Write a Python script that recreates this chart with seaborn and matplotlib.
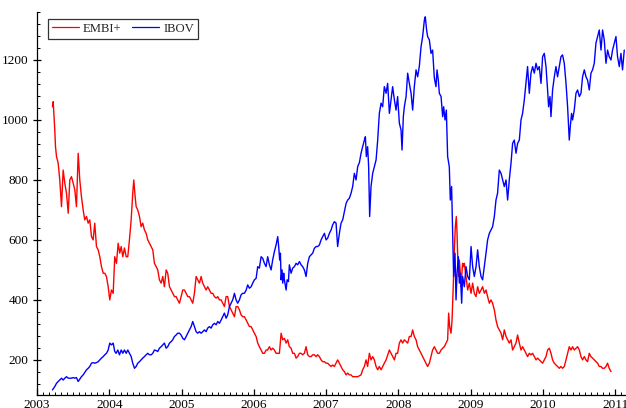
import matplotlib
matplotlib.use("Agg")
import matplotlib.pyplot as plt
from matplotlib.ticker import MultipleLocator, FormatStrFormatter
import pandas as pd
import seaborn as sns

# EMBI+ spread (basis points) sampled through time, in decimal years
embi_year = [
    2003.214, 2003.224, 2003.246, 2003.256, 2003.270, 2003.293, 2003.315, 2003.339, 2003.362, 2003.385,
    2003.408, 2003.432, 2003.454, 2003.477, 2003.501, 2003.523, 2003.546, 2003.570, 2003.592, 2003.615,
    2003.639, 2003.661, 2003.685, 2003.708, 2003.730, 2003.754, 2003.777, 2003.799, 2003.823, 2003.846,
    2003.869, 2003.892, 2003.916, 2003.938, 2003.961, 2003.985, 2004.007, 2004.030, 2004.054, 2004.076,
    2004.100, 2004.123, 2004.145, 2004.165, 2004.187, 2004.210, 2004.234, 2004.256, 2004.279, 2004.303,
    2004.325, 2004.339, 2004.358, 2004.372, 2004.394, 2004.418, 2004.441, 2004.463, 2004.487, 2004.510,
    2004.533, 2004.556, 2004.580, 2004.602, 2004.625, 2004.649, 2004.671, 2004.694, 2004.718, 2004.740,
    2004.763, 2004.787, 2004.809, 2004.833, 2004.856, 2004.878, 2004.902, 2004.925, 2004.947, 2004.971,
    2004.994, 2005.017, 2005.040, 2005.064, 2005.086, 2005.109, 2005.133, 2005.155, 2005.178, 2005.202,
    2005.224, 2005.248, 2005.271, 2005.293, 2005.317, 2005.340, 2005.362, 2005.386, 2005.409, 2005.432,
    2005.455, 2005.479, 2005.501, 2005.524, 2005.548, 2005.570, 2005.593, 2005.617, 2005.639, 2005.663,
    2005.686, 2005.708, 2005.732, 2005.755, 2005.777, 2005.801, 2005.824, 2005.846, 2005.870, 2005.894,
    2005.916, 2005.939, 2005.963, 2005.985, 2006.008, 2006.032, 2006.054, 2006.077, 2006.101, 2006.123,
    2006.147, 2006.170, 2006.192, 2006.216, 2006.239, 2006.261, 2006.285, 2006.308, 2006.331, 2006.354,
    2006.378, 2006.400, 2006.423, 2006.447, 2006.469, 2006.492, 2006.516, 2006.538, 2006.562, 2006.585,
    2006.607, 2006.631, 2006.654, 2006.676, 2006.700, 2006.723, 2006.746, 2006.769, 2006.793, 2006.815,
    2006.838, 2006.862, 2006.884, 2006.907, 2006.931, 2006.953, 2006.977, 2007.000, 2007.022, 2007.046,
    2007.069, 2007.091, 2007.115, 2007.138, 2007.160, 2007.184, 2007.207, 2007.230, 2007.253, 2007.277,
    2007.299, 2007.322, 2007.346, 2007.368, 2007.391, 2007.437, 2007.484, 2007.506, 2007.530, 2007.553,
    2007.575, 2007.599, 2007.622, 2007.645, 2007.668, 2007.692, 2007.714, 2007.737, 2007.761, 2007.783,
    2007.806, 2007.830, 2007.876, 2007.899, 2007.921, 2007.945, 2007.968, 2007.990, 2008.014, 2008.037,
    2008.059, 2008.083, 2008.107, 2008.129, 2008.152, 2008.176, 2008.198, 2008.221, 2008.245, 2008.267,
    2008.290, 2008.314, 2008.336, 2008.360, 2008.383, 2008.405, 2008.429, 2008.452, 2008.474, 2008.498,
    2008.521, 2008.544, 2008.567, 2008.591, 2008.613, 2008.636, 2008.660, 2008.682, 2008.696, 2008.710,
    2008.729, 2008.743, 2008.761, 2008.775, 2008.788, 2008.802, 2008.812, 2008.820, 2008.834, 2008.844,
    2008.858, 2008.867, 2008.889, 2008.903, 2008.913, 2008.936, 2008.959, 2008.982, 2009.006, 2009.028,
    2009.051, 2009.075, 2009.097, 2009.120, 2009.144, 2009.166, 2009.190, 2009.213, 2009.235, 2009.259,
    2009.282, 2009.304, 2009.328, 2009.351, 2009.373, 2009.397, 2009.421, 2009.443, 2009.466, 2009.490,
    2009.512, 2009.535, 2009.559, 2009.581, 2009.604, 2009.628, 2009.650, 2009.674, 2009.697, 2009.719,
    2009.743, 2009.766, 2009.788, 2009.812, 2009.835, 2009.858, 2009.881, 2009.905, 2009.927, 2009.950,
    2009.974, 2009.996, 2010.019, 2010.043, 2010.065, 2010.089, 2010.112, 2010.134, 2010.158, 2010.181,
    2010.203, 2010.227, 2010.250, 2010.272, 2010.296, 2010.320, 2010.342, 2010.365, 2010.389, 2010.411,
    2010.434, 2010.458, 2010.480, 2010.504, 2010.527, 2010.549, 2010.573, 2010.596, 2010.618, 2010.642,
    2010.665, 2010.687, 2010.711, 2010.734, 2010.757, 2010.780, 2010.804, 2010.826, 2010.849, 2010.873,
    2010.895, 2010.918, 2010.942,
]
embi_value = [
    1044, 1061, 967, 911, 878, 856, 800, 711, 833, 789,
    756, 689, 800, 811, 789, 767, 711, 889, 800, 744,
    700, 667, 678, 656, 667, 611, 600, 656, 578, 567,
    544, 511, 489, 489, 478, 444, 400, 433, 422, 544,
    522, 589, 556, 578, 544, 573, 544, 544, 600, 667,
    756, 800, 744, 711, 700, 678, 644, 656, 633, 622,
    600, 589, 578, 567, 522, 511, 500, 467, 456, 478,
    444, 500, 489, 444, 433, 422, 411, 411, 400, 389,
    411, 433, 433, 422, 411, 411, 400, 389, 422, 478,
    467, 456, 478, 456, 444, 433, 444, 433, 422, 422,
    411, 406, 411, 400, 400, 389, 378, 411, 411, 378,
    367, 356, 344, 378, 378, 367, 350, 344, 344, 333,
    322, 311, 311, 300, 289, 278, 256, 244, 233, 222,
    222, 233, 233, 244, 233, 239, 233, 222, 222, 222,
    289, 267, 272, 256, 267, 244, 239, 222, 222, 206,
    211, 222, 222, 217, 222, 244, 217, 211, 211, 217,
    217, 211, 217, 211, 200, 194, 194, 189, 189, 183,
    178, 183, 178, 189, 200, 189, 178, 167, 161, 150,
    156, 150, 150, 144, 144, 144, 150, 167, 178, 200,
    178, 222, 200, 211, 200, 178, 167, 178, 167, 178,
    189, 200, 233, 222, 211, 200, 222, 222, 256, 267,
    256, 267, 261, 256, 278, 278, 300, 278, 267, 244,
    233, 222, 211, 200, 189, 178, 189, 211, 233, 244,
    233, 222, 222, 233, 239, 244, 256, 267, 356, 311,
    289, 333, 456, 567, 644, 678, 622, 556, 478, 533,
    489, 444, 522, 511, 522, 478, 433, 456, 422, 456,
    422, 411, 444, 422, 433, 444, 422, 433, 411, 389,
    400, 389, 367, 333, 311, 300, 289, 267, 300, 278,
    267, 256, 267, 233, 244, 256, 283, 256, 233, 244,
    233, 222, 211, 222, 217, 222, 211, 200, 206, 200,
    194, 189, 200, 211, 233, 239, 222, 200, 189, 183,
    178, 172, 178, 172, 178, 200, 222, 244, 233, 244,
    233, 239, 244, 233, 211, 200, 211, 200, 194, 222,
    211, 206, 200, 194, 189, 178, 178, 172, 172, 178,
    189, 172, 161,
]

# IBOV index level sampled through time, in decimal years
ibov_year = [
    2003.214, 2003.246, 2003.270, 2003.293, 2003.315, 2003.339, 2003.362, 2003.385, 2003.408, 2003.432,
    2003.454, 2003.477, 2003.501, 2003.523, 2003.546, 2003.570, 2003.592, 2003.615, 2003.639, 2003.661,
    2003.685, 2003.708, 2003.730, 2003.754, 2003.777, 2003.799, 2003.823, 2003.846, 2003.869, 2003.892,
    2003.916, 2003.938, 2003.961, 2003.985, 2004.007, 2004.030, 2004.054, 2004.076, 2004.095, 2004.118,
    2004.141, 2004.165, 2004.187, 2004.210, 2004.234, 2004.256, 2004.279, 2004.303, 2004.325, 2004.349,
    2004.372, 2004.394, 2004.418, 2004.441, 2004.463, 2004.487, 2004.510, 2004.533, 2004.556, 2004.580,
    2004.602, 2004.625, 2004.649, 2004.671, 2004.694, 2004.718, 2004.740, 2004.763, 2004.787, 2004.809,
    2004.833, 2004.856, 2004.878, 2004.902, 2004.925, 2004.947, 2004.971, 2004.994, 2005.017, 2005.040,
    2005.064, 2005.086, 2005.109, 2005.133, 2005.155, 2005.178, 2005.202, 2005.224, 2005.248, 2005.271,
    2005.293, 2005.317, 2005.340, 2005.362, 2005.386, 2005.409, 2005.432, 2005.455, 2005.479, 2005.501,
    2005.524, 2005.548, 2005.570, 2005.593, 2005.617, 2005.639, 2005.663, 2005.686, 2005.708, 2005.732,
    2005.755, 2005.777, 2005.801, 2005.824, 2005.846, 2005.870, 2005.894, 2005.916, 2005.939, 2005.963,
    2005.985, 2006.008, 2006.032, 2006.054, 2006.077, 2006.101, 2006.123, 2006.147, 2006.170, 2006.192,
    2006.216, 2006.239, 2006.261, 2006.285, 2006.308, 2006.331, 2006.344, 2006.358, 2006.368, 2006.378,
    2006.391, 2006.400, 2006.414, 2006.423, 2006.447, 2006.461, 2006.479, 2006.492, 2006.516, 2006.538,
    2006.562, 2006.585, 2006.607, 2006.631, 2006.654, 2006.676, 2006.700, 2006.723, 2006.746, 2006.769,
    2006.793, 2006.815, 2006.838, 2006.862, 2006.884, 2006.907, 2006.931, 2006.953, 2006.977, 2007.000,
    2007.022, 2007.046, 2007.069, 2007.091, 2007.115, 2007.138, 2007.160, 2007.184, 2007.207, 2007.230,
    2007.253, 2007.277, 2007.299, 2007.322, 2007.346, 2007.368, 2007.391, 2007.415, 2007.437, 2007.461,
    2007.484, 2007.506, 2007.530, 2007.544, 2007.557, 2007.575, 2007.589, 2007.603, 2007.622, 2007.645,
    2007.668, 2007.692, 2007.714, 2007.737, 2007.761, 2007.783, 2007.806, 2007.830, 2007.852, 2007.876,
    2007.899, 2007.921, 2007.945, 2007.968, 2007.990, 2008.014, 2008.037, 2008.051, 2008.069, 2008.083,
    2008.107, 2008.129, 2008.152, 2008.176, 2008.198, 2008.221, 2008.245, 2008.267, 2008.290, 2008.314,
    2008.336, 2008.360, 2008.373, 2008.391, 2008.405, 2008.429, 2008.452, 2008.474, 2008.498, 2008.521,
    2008.535, 2008.553, 2008.567, 2008.591, 2008.613, 2008.627, 2008.646, 2008.664, 2008.682, 2008.705,
    2008.719, 2008.737, 2008.751, 2008.765, 2008.784, 2008.798, 2008.812, 2008.830, 2008.844, 2008.858,
    2008.876, 2008.889, 2008.913, 2008.936, 2008.959, 2008.982, 2009.006, 2009.028, 2009.051, 2009.075,
    2009.097, 2009.120, 2009.144, 2009.166, 2009.190, 2009.213, 2009.235, 2009.259, 2009.282, 2009.304,
    2009.328, 2009.351, 2009.373, 2009.397, 2009.421, 2009.443, 2009.466, 2009.490, 2009.512, 2009.535,
    2009.559, 2009.581, 2009.604, 2009.628, 2009.650, 2009.674, 2009.697, 2009.719, 2009.743, 2009.766,
    2009.788, 2009.812, 2009.835, 2009.858, 2009.881, 2009.905, 2009.927, 2009.950, 2009.974, 2009.996,
    2010.019, 2010.043, 2010.065, 2010.079, 2010.098, 2010.112, 2010.134, 2010.158, 2010.181, 2010.203,
    2010.227, 2010.250, 2010.272, 2010.296, 2010.320, 2010.342, 2010.365, 2010.379, 2010.397, 2010.411,
    2010.434, 2010.458, 2010.480, 2010.504, 2010.527, 2010.549, 2010.573, 2010.596, 2010.618, 2010.642,
    2010.665, 2010.687, 2010.711, 2010.734, 2010.757, 2010.780, 2010.804, 2010.826, 2010.849, 2010.873,
    2010.895, 2010.918, 2010.942, 2010.964, 2010.988, 2011.011, 2011.033, 2011.057, 2011.080, 2011.102,
    2011.126,
]
ibov_value = [
    100, 111, 122, 128, 133, 139, 133, 139, 144, 139,
    139, 139, 141, 139, 141, 128, 136, 144, 150, 158,
    167, 172, 178, 189, 191, 189, 191, 194, 200, 206,
    211, 217, 222, 233, 256, 250, 256, 228, 222, 233,
    217, 233, 222, 233, 222, 233, 222, 211, 189, 172,
    178, 189, 194, 200, 206, 211, 217, 222, 217, 217,
    222, 233, 231, 228, 239, 244, 250, 256, 239, 244,
    256, 261, 267, 278, 283, 289, 289, 283, 272, 267,
    278, 289, 300, 311, 328, 311, 294, 289, 294, 289,
    294, 300, 294, 306, 311, 306, 317, 322, 317, 328,
    322, 333, 344, 356, 339, 350, 378, 389, 400, 422,
    400, 389, 400, 417, 422, 422, 433, 450, 439, 444,
    456, 467, 472, 511, 506, 544, 539, 522, 511, 544,
    517, 500, 533, 561, 583, 611, 578, 533, 556, 467,
    500, 456, 489, 467, 433, 467, 461, 517, 489, 506,
    511, 522, 517, 528, 517, 511, 500, 478, 522, 544,
    550, 556, 572, 578, 578, 583, 600, 611, 622, 600,
    606, 622, 633, 650, 661, 656, 578, 622, 656, 667,
    694, 722, 733, 739, 756, 778, 822, 800, 844, 858,
    889, 911, 933, 944, 878, 911, 844, 678, 778, 822,
    844, 867, 933, 1022, 1056, 1044, 1111, 1089, 1122, 1022,
    1067, 1111, 1067, 1033, 1078, 989, 967, 900, 1011, 1044,
    1078, 1156, 1122, 1089, 1033, 1111, 1167, 1144, 1178, 1244,
    1278, 1333, 1344, 1300, 1278, 1267, 1222, 1233, 1140, 1111,
    1167, 1133, 1089, 1078, 1011, 1044, 1000, 1033, 878, 844,
    733, 778, 622, 478, 556, 400, 489, 544, 456, 489,
    389, 478, 444, 511, 478, 467, 578, 511, 478, 511,
    567, 511, 478, 467, 511, 556, 600, 622, 633, 644,
    678, 733, 756, 833, 822, 800, 778, 800, 733, 800,
    856, 922, 933, 889, 922, 933, 1000, 1022, 1067, 1122,
    1178, 1089, 1156, 1178, 1156, 1189, 1167, 1178, 1122, 1211,
    1222, 1178, 1100, 1044, 1078, 1011, 1100, 1144, 1178, 1144,
    1178, 1211, 1217, 1189, 1122, 1044, 933, 978, 1022, 1000,
    1033, 1089, 1100, 1078, 1089, 1144, 1167, 1144, 1133, 1100,
    1156, 1167, 1189, 1256, 1278, 1300, 1233, 1300, 1267, 1189,
    1233, 1211, 1200, 1233, 1256, 1278, 1211, 1178, 1222, 1167,
    1233,
]

series_names = ["EMBI+", "IBOV"]
series_colors = ["red", "blue"]

year_ticks = list(range(2003, 2012))
value_ticks = [200, 400, 600, 800, 1000, 1200]

df = pd.concat([
    pd.DataFrame({"year": embi_year, "value": embi_value, "series": series_names[0]}),
    pd.DataFrame({"year": ibov_year, "value": ibov_value, "series": series_names[1]}),
], ignore_index=True)

sns.set_style("ticks")
plt.rcParams["font.family"] = ["Liberation Serif", "DejaVu Serif"]

fig = plt.figure(figsize=(6.26, 4.08), dpi=100)
ax = fig.add_axes([0.0591, 0.0319, 0.9409, 0.9387])

sns.lineplot(
    data=df, x="year", y="value", hue="series",
    hue_order=series_names, palette=dict(zip(series_names, series_colors)),
    estimator=None, linewidth=1.0, ax=ax, legend=True,
)

ax.set_xlim(2003.0, 2011.15)
ax.set_ylim(83, 1360)
ax.set_xticks(year_ticks)
ax.xaxis.set_major_formatter(FormatStrFormatter("%d"))
ax.xaxis.set_minor_locator(MultipleLocator(1 / 12))
ax.set_yticks(value_ticks)
ax.yaxis.set_minor_locator(MultipleLocator(40))
ax.set_xlabel("")
ax.set_ylabel("")

for side in ("top", "right"):
    ax.spines[side].set_visible(False)
for side in ("left", "bottom"):
    ax.spines[side].set_color("black")
    ax.spines[side].set_linewidth(0.9)

ax.tick_params(axis="both", which="major", direction="in", length=4.0, width=0.9,
               color="black", labelsize=9.5, labelcolor="black", pad=3)
ax.tick_params(axis="y", which="major", direction="inout", length=6.0)
ax.tick_params(axis="both", which="minor", direction="in", length=2.0, width=0.7,
               color="black")

handles, labels = ax.get_legend_handles_labels()
leg = ax.legend(
    handles, labels, loc="upper left", bbox_to_anchor=(0.0187, 0.982),
    borderaxespad=0.0, ncol=2, frameon=True, fancybox=False, fontsize=9.2,
    handlelength=2.1, handletextpad=0.35, columnspacing=0.8, borderpad=0.3,
)
leg.get_frame().set_edgecolor("black")
leg.get_frame().set_linewidth(0.9)
for line in leg.get_lines():
    line.set_linewidth(0.9)

fig.savefig("out.png", dpi=100)
